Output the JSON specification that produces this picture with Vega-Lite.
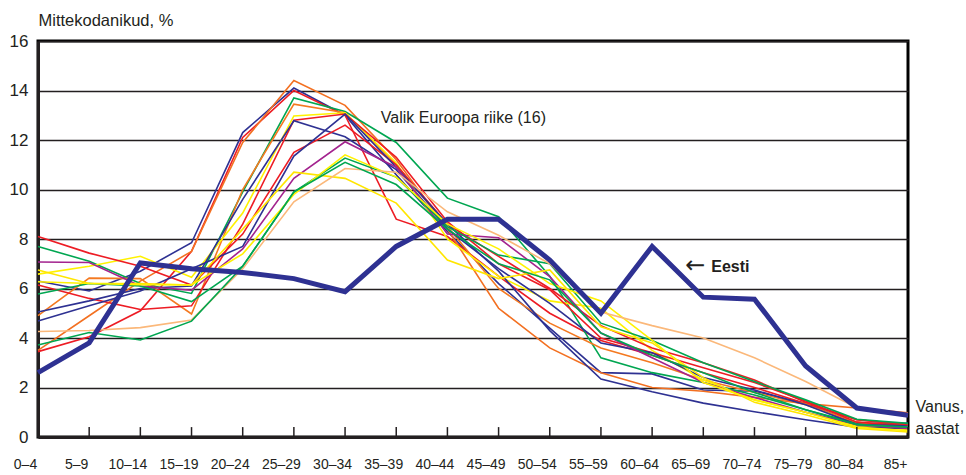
{
  "$schema": "https://vega.github.io/schema/vega-lite/v6.json",
  "width": 870,
  "height": 396,
  "autosize": {"type": "none"},
  "padding": {"left": 38, "top": 41, "right": 58, "bottom": 38},
  "background": "white",
  "config": {
    "view": {"stroke": "#000000", "strokeWidth": 3},
    "font": "Liberation Sans",
    "text": {"font": "Liberation Sans"},
    "axis": {"labelFont": "Liberation Sans", "titleFont": "Liberation Sans", "labelColor": "#231f20", "titleColor": "#231f20"}
  },
  "data": {
    "values": [
      {"age": "0–4", "a": 6.3, "b": 3.45, "c": 3.5, "d": 7.7, "e": 4.9, "f": 6.58, "g": 6.14, "h": 5.05, "i": 8.1, "j": 4.69, "k": 7.07, "l": 6.75, "m": 5.78, "n": 6.27, "o": 4.26, "p": 3.72, "Eesti": 2.6},
      {"age": "5–9", "a": 5.9, "b": 4.05, "c": 4.9, "d": 7.1, "e": 6.42, "f": 6.9, "g": 5.6, "h": 5.5, "i": 7.43, "j": 5.3, "k": 7.05, "l": 6.2, "m": 6.2, "n": 6.2, "o": 4.3, "p": 4.22, "Eesti": 3.8},
      {"age": "10–14", "a": 6.7, "b": 5.1, "c": 6.3, "d": 6.2, "e": 6.4, "f": 7.3, "g": 5.15, "h": 6.0, "i": 6.9, "j": 5.9, "k": 6.1, "l": 6.2, "m": 6.1, "n": 6.15, "o": 4.42, "p": 3.92, "Eesti": 7.03},
      {"age": "15–19", "a": 7.85, "b": 7.5, "c": 7.5, "d": 5.8, "e": 4.97, "f": 6.45, "g": 5.3, "h": 6.1, "i": 6.14, "j": 6.8, "k": 5.93, "l": 6.14, "m": 5.47, "n": 6.14, "o": 4.73, "p": 4.68, "Eesti": 6.8},
      {"age": "20–24", "a": 12.3, "b": 12.1, "c": 11.9, "d": 9.9, "e": 10.0, "f": 9.05, "g": 8.6, "h": 9.6, "i": 8.2, "j": 7.7, "k": 7.6, "l": 8.4, "m": 6.9, "n": 7.4, "o": 6.8, "p": 6.9, "Eesti": 6.65},
      {"age": "25–29", "a": 14.1, "b": 14.0, "c": 14.4, "d": 13.7, "e": 13.45, "f": 12.97, "g": 12.8, "h": 12.78, "i": 11.5, "j": 11.35, "k": 10.45, "l": 10.7, "m": 9.9, "n": 9.8, "o": 9.5, "p": 9.9, "Eesti": 6.4},
      {"age": "30–34", "a": 13.0, "b": 13.0, "c": 13.4, "d": 13.15, "e": 13.1, "f": 13.1, "g": 13.05, "h": 12.13, "i": 12.6, "j": 13.05, "k": 11.93, "l": 10.45, "m": 11.27, "n": 11.4, "o": 10.85, "p": 11.1, "Eesti": 5.87},
      {"age": "35–39", "a": 10.6, "b": 8.8, "c": 11.2, "d": 11.9, "e": 11.0, "f": 11.07, "g": 11.3, "h": 10.8, "i": 11.0, "j": 10.9, "k": 10.9, "l": 9.45, "m": 10.5, "n": 10.5, "o": 10.7, "p": 10.2, "Eesti": 7.7},
      {"age": "40–44", "a": 8.3, "b": 8.1, "c": 8.4, "d": 9.65, "e": 8.5, "f": 8.0, "g": 8.7, "h": 8.4, "i": 8.6, "j": 8.6, "k": 8.2, "l": 7.15, "m": 8.5, "n": 8.6, "o": 9.1, "p": 8.4, "Eesti": 8.8},
      {"age": "45–49", "a": 6.2, "b": 6.5, "c": 5.2, "d": 8.9, "e": 6.0, "f": 6.5, "g": 7.0, "h": 6.8, "i": 7.3, "j": 6.7, "k": 8.05, "l": 6.4, "m": 7.35, "n": 7.6, "o": 8.15, "p": 7.0, "Eesti": 8.8},
      {"age": "50–54", "a": 4.4, "b": 5.0, "c": 3.6, "d": 6.5, "e": 4.6, "f": 5.5, "g": 5.95, "h": 5.4, "i": 6.0, "j": 4.3, "k": 6.48, "l": 6.75, "m": 7.0, "n": 6.2, "o": 7.0, "p": 6.35, "Eesti": 7.15},
      {"age": "55–59", "a": 2.6, "b": 3.9, "c": 2.6, "d": 3.2, "e": 3.6, "f": 5.2, "g": 4.0, "h": 3.8, "i": 4.5, "j": 2.34, "k": 4.2, "l": 4.45, "m": 4.6, "n": 5.5, "o": 5.05, "p": 4.2, "Eesti": 5.0},
      {"age": "60–64", "a": 2.55, "b": 3.3, "c": 2.0, "d": 2.6, "e": 3.0, "f": 3.5, "g": 3.4, "h": 3.4, "i": 3.6, "j": 1.83, "k": 3.2, "l": 3.8, "m": 3.9, "n": 3.9, "o": 4.5, "p": 3.3, "Eesti": 7.7},
      {"age": "65–69", "a": 1.9, "b": 2.6, "c": 1.85, "d": 2.2, "e": 2.3, "f": 2.3, "g": 2.8, "h": 2.4, "i": 3.0, "j": 1.37, "k": 2.2, "l": 2.4, "m": 3.0, "n": 2.2, "o": 4.0, "p": 2.6, "Eesti": 5.65},
      {"age": "70–74", "a": 1.85, "b": 2.0, "c": 1.6, "d": 1.7, "e": 1.8, "f": 1.5, "g": 2.2, "h": 1.9, "i": 2.3, "j": 1.02, "k": 1.6, "l": 1.4, "m": 2.24, "n": 1.5, "o": 3.2, "p": 1.8, "Eesti": 5.57},
      {"age": "75–79", "a": 1.35, "b": 1.35, "c": 1.35, "d": 1.1, "e": 1.3, "f": 1.0, "g": 1.45, "h": 1.3, "i": 1.4, "j": 0.7, "k": 1.0, "l": 0.9, "m": 1.5, "n": 1.0, "o": 2.24, "p": 1.1, "Eesti": 2.87},
      {"age": "80–84", "a": 0.55, "b": 0.7, "c": 1.17, "d": 0.55, "e": 0.6, "f": 0.45, "g": 0.6, "h": 0.5, "i": 0.7, "j": 0.4, "k": 0.5, "l": 0.35, "m": 0.72, "n": 0.4, "o": 1.17, "p": 0.5, "Eesti": 1.17},
      {"age": "85+", "a": 0.55, "b": 0.5, "c": 0.98, "d": 0.5, "e": 0.4, "f": 0.3, "g": 0.45, "h": 0.45, "i": 0.5, "j": 0.35, "k": 0.35, "l": 0.2, "m": 0.55, "n": 0.25, "o": 0.85, "p": 0.4, "Eesti": 0.88}
    ]
  },
  "encoding": {
    "x": {
      "field": "age", "type": "ordinal", "sort": null,
      "scale": {"type": "point", "padding": 0},
      "axis": {
        "title": ["Vanus,", "aastat"],
        "titleAngle": 0, "titleAlign": "left", "titleBaseline": "alphabetic",
        "titleX": 877, "titleY": -26, "titleFontSize": 16, "titleFontWeight": "normal", "titleLineHeight": 22,
        "labelAngle": 0, "labelFontSize": 14, "labelPadding": 20, "labelOffset": -13,
        "labelBaseline": "top", "labelOverlap": false,
        "domain": true, "domainColor": "#231f20", "domainWidth": 3,
        "ticks": false,
        "grid": false
      }
    }
  },
  "layer": [
    {
      "transform": [{"fold": ["a", "b", "c", "d", "e", "f", "g", "h", "i", "j", "k", "l", "m", "n", "o", "p"], "as": ["s", "v"]}],
      "mark": {"type": "line", "strokeWidth": 1.6, "strokeJoin": "miter"},
      "encoding": {
        "y": {
          "field": "v", "type": "quantitative",
          "scale": {"domain": [0, 16], "nice": false},
          "axis": {
            "values": [0, 2, 4, 6, 8, 10, 12, 14, 16],
            "title": "Mittekodanikud, %", "titleAngle": 0, "titleAlign": "left", "titleBaseline": "middle",
            "titleX": 0, "titleY": -21, "titleFontSize": 16.5, "titleFontWeight": "normal",
            "labelFontSize": 17, "labelPadding": 10,
            "ticks": false, "domain": true, "domainColor": "#231f20", "domainWidth": 3,
            "grid": true, "gridColor": "#231f20", "gridWidth": 1.5, "gridOpacity": 1
          }
        },
        "color": {
          "field": "s", "type": "nominal", "legend": null,
          "scale": {
            "domain": ["a", "b", "c", "d", "e", "f", "g", "h", "i", "j", "k", "l", "m", "n", "o", "p"],
            "range": ["#2e3192", "#ed1c24", "#f37021", "#00a651", "#f47920", "#fff200", "#ed1c24", "#2e3192", "#ed1c24", "#2e3192", "#a3238e", "#ffe600", "#00a651", "#fff200", "#fbb87a", "#00a651"]
          }
        }
      }
    },
    {
      "mark": {"type": "rule", "color": "#231f20", "strokeWidth": 1.5},
      "encoding": {"y": {"datum": 0}, "y2": {"datum": 0.4}}
    },
    {
      "mark": {"type": "line", "color": "#2e3192", "strokeWidth": 5, "strokeJoin": "miter"},
      "encoding": {"y": {"field": "Eesti", "type": "quantitative"}}
    },
    {
      "data": {"values": [{"t": "Valik Euroopa riike (16)"}]},
      "mark": {"type": "text", "fontSize": 16, "color": "#231f20", "align": "center", "baseline": "middle", "dx": 16},
      "encoding": {"x": {"datum": "40–44"}, "y": {"datum": 12.89}, "text": {"field": "t"}}
    },
    {
      "data": {"values": [{"t": "←"}]},
      "mark": {"type": "text", "font": "DejaVu Sans", "fontSize": 24, "color": "#231f20", "align": "center", "baseline": "middle", "dx": -8, "dy": -1},
      "encoding": {"x": {"datum": "65–69"}, "y": {"datum": 6.87}, "text": {"field": "t"}}
    },
    {
      "data": {"values": [{"t": "Eesti"}]},
      "mark": {"type": "text", "fontSize": 16, "fontWeight": "bold", "color": "#231f20", "align": "left", "baseline": "middle", "dx": 8},
      "encoding": {"x": {"datum": "65–69"}, "y": {"datum": 6.87}, "text": {"field": "t"}}
    }
  ]
}
